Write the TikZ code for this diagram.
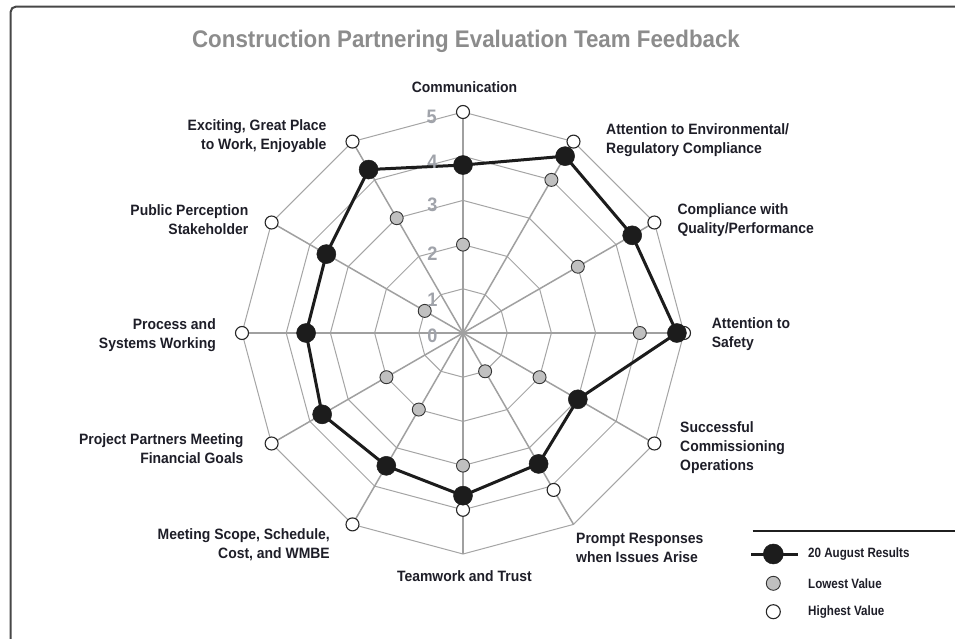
\documentclass[tikz,border=0pt]{standalone}
\usepackage{fontspec}
\setmainfont{Liberation Sans}[FakeStretch=0.93]
\newfontfamily\legfont{Liberation Sans}[FakeStretch=0.86]
\definecolor{txt}{RGB}{30,30,40}
\definecolor{titlegray}{RGB}{140,140,140}
\definecolor{digitgray}{RGB}{160,163,170}
\definecolor{gridgray}{RGB}{165,165,165}
\definecolor{spokegray}{RGB}{160,160,160}
\definecolor{darkmark}{RGB}{28,28,28}
\definecolor{lowfill}{RGB}{192,192,192}
\tikzset{
  framestyle/.style={draw=black!72, line width=2pt, rounded corners=5pt},
  ringline/.style={draw=gridgray, line width=1pt},
  spokeline/.style={draw=spokegray, line width=1.5pt},
  seriesline/.style={draw=darkmark, line width=3pt, line join=round},
  bmark/.style={circle, fill=darkmark, draw=darkmark, line width=0.5pt, inner sep=0pt, minimum size=19pt},
  gmark/.style={circle, fill=lowfill, draw=black!80, line width=0.9pt, inner sep=0pt, minimum size=13pt},
  wmark/.style={circle, fill=white, draw=black!85, line width=1.1pt, inner sep=0pt, minimum size=13pt},
  lab/.style={text=txt, font=\bfseries\fontsize{15}{19}\selectfont, inner sep=0pt},
  digit/.style={text=digitgray, font=\bfseries\fontsize{19.5}{20}\selectfont, inner sep=0pt},
  legtext/.style={text=txt, font=\legfont\bfseries\fontsize{13.5}{16}\selectfont, inner sep=0pt, anchor=west},
  titlestyle/.style={text=titlegray, font=\bfseries\fontsize{24}{28}\selectfont, inner sep=0pt}
}
\begin{document}
\begin{tikzpicture}[x=1pt,y=1pt]
\useasboundingbox (0,0) rectangle (955,638);
\clip (0,0) rectangle (955,638);
\fill[white] (0,0) rectangle (955,638);
% frame
\draw[framestyle] (10.7,-30) -- (10.7,631.3) -- (990,631.3);
% title
\node[titlestyle, anchor=base] (title) at (466,590.7) {Construction Partnering Evaluation Team Feedback};
% radar chart
\begin{scope}[shift={(463,305)}]
  \coordinate (C) at (0,0);
  \foreach \k in {1,...,5}
    \draw[ringline] (90:\k*44.2) \foreach \a in {120,150,...,420} { -- (\a:\k*44.2) } -- cycle;
  \foreach \i in {0,...,11}
    \coordinate (v\i) at ({90-30*\i}:5*44.2);
  \foreach \i in {0,...,11}
    \draw[spokeline] (C) -- (v\i);
  % highest values
  \foreach \i/\v in {0/5,1/5,2/5,3/5,4/5,5/4.1,6/4,7/5,8/5,9/5,10/5,11/5}
    \node[wmark] (w\i) at ({90-30*\i}:\v*44.2) {};
  % lowest values
  \foreach \i/\v in {0/2,1/4,2/3,3/4,4/2,5/1,6/3,7/2,8/2,10/1,11/3}
    \node[gmark] (g\i) at ({90-30*\i}:\v*44.2) {};
  % 20 August results
  \foreach \i/\v in {0/3.8,1/4.62,2/4.42,3/4.84,4/3.0,5/3.42,6/3.68,7/3.47,8/3.68,9/3.55,10/3.57,11/4.27}
    \coordinate (p\i) at ({90-30*\i}:\v*44.2);
  \draw[seriesline] (p0) -- (p1) -- (p2) -- (p3) -- (p4) -- (p5) -- (p6) -- (p7) -- (p8) -- (p9) -- (p10) -- (p11) -- cycle;
  \foreach \i in {0,...,11}
    \node[bmark] (b\i) at (p\i) {};
\end{scope}
% scale digits
\node[digit] (d5) at (431.7,521.3) {5};
\node[digit] (d4) at (432.3,476.3) {4};
\node[digit] (d3) at (432.3,433) {3};
\node[digit] (d2) at (432.3,384.7) {2};
\node[digit] (d1) at (432.3,338.7) {1};
\node[digit] (d0) at (432.3,302) {0};
% axis labels
\node[lab, anchor=north] (l0) at (464.5,557) {Communication};
\node[lab, anchor=north west, align=left] (l1) at (606,514.7) {Attention to Environmental/\\Regulatory Compliance};
\node[lab, anchor=north west, align=left] (l2) at (677.3,434.7) {Compliance with\\Quality/Performance};
\node[lab, anchor=north west, align=left] (l3) at (711.7,320.3) {Attention to\\Safety};
\node[lab, anchor=north west, align=left] (l4) at (680,216.3) {Successful\\Commissioning\\Operations};
\node[lab, anchor=north west, align=left] (l5) at (576,104.7) {Prompt Responses\\when Issues Arise};
\node[lab, anchor=north] (l6) at (464.4,68) {Teamwork and Trust};
\node[lab, anchor=north east, align=right] (l7) at (330,109.7) {Meeting Scope, Schedule,\\Cost, and WMBE};
\node[lab, anchor=north east, align=right] (l8) at (243.6,204.7) {Project Partners Meeting\\Financial Goals};
\node[lab, anchor=north east, align=right] (l9) at (216,320) {Process and\\Systems Working};
\node[lab, anchor=north east, align=right] (l10) at (248.5,434) {Public Perception\\Stakeholder};
\node[lab, anchor=north east, align=right] (l11) at (326.7,518.7) {Exciting, Great Place\\to Work, Enjoyable};
% legend
\coordinate (sepA) at (752.7,107.3);
\coordinate (sepB) at (990,107.3);
\draw[draw=black!88, line width=2pt] (sepA) -- (sepB);
\coordinate (lgA) at (751,84);
\coordinate (lgB) at (798,84);
\draw[seriesline] (lgA) -- (lgB);
\node[bmark, minimum size=20pt] (lb) at (773.3,84) {};
\node[legtext] (lt1) at (808,84) {20 August Results};
\node[gmark, minimum size=14pt] (lg) at (773.3,54.7) {};
\node[legtext] (lt2) at (808,54.7) {Lowest Value};
\node[wmark, minimum size=14pt] (lw) at (773.3,26.3) {};
\node[legtext] (lt3) at (808,26.3) {Highest Value};
\end{tikzpicture}
\end{document}
